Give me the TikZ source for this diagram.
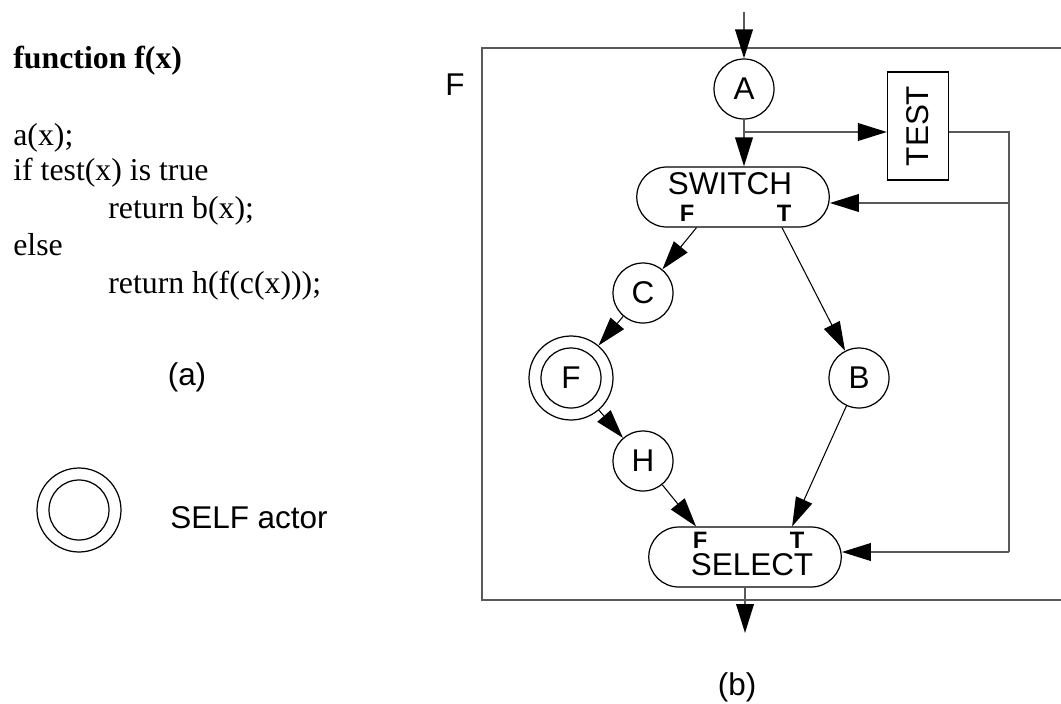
\documentclass[tikz,border=0pt]{standalone}
\usepackage{fontspec}
\setmainfont{Liberation Sans}
\newfontfamily\codefont{Liberation Serif}
\usepackage{tikz}
\usetikzlibrary{calc}
\usetikzlibrary{arrows.meta}
\usetikzlibrary{positioning, shapes.misc}

\begin{document}
\begin{tikzpicture}[x=0.02cm, y=-0.02cm,
    >={Triangle[length=16.5pt, width=10pt, color=black]},
    lbl/.style={font=\fontsize{17.9}{21}\selectfont},
    tf/.style={font=\fontsize{13.5}{15}\selectfont\bfseries, inner sep=0pt},
    code/.style={anchor=base west, inner sep=0pt, font=\codefont\fontsize{18.1}{21}\selectfont},
    actor/.style={circle, draw, line width=0.7pt, minimum size=1.2cm, inner sep=0pt, lbl},
    selfactor/.style={circle, draw, line width=0.7pt, minimum size=1.68cm, inner sep=0pt, lbl,
        path picture={\draw[line width=0.7pt] (path picture bounding box.center) circle (0.6cm);}},
    stadium/.style={rounded rectangle, draw, line width=0.7pt, minimum width=3.85cm, minimum height=1.2cm, inner sep=0pt},
    testbox/.style={draw, line width=0.7pt, minimum width=1.22cm, minimum height=2.16cm, inner sep=0pt, lbl},
    wire/.style={draw=black!65, line width=1.1pt},
    edge/.style={draw=black, line width=0.6pt}]
    \useasboundingbox (0,0) rectangle (1061,703);

    % left: the function and the legend
    \node[code, font=\codefont\bfseries\fontsize{18.1}{21}\selectfont] (title) at (13,68) {function f(x)};
    \node[code] (l1) at (13,145) {a(x);};
    \node[code] (l2) at (13,180) {if test(x) is true};
    \node[code] (l3) at (108,218) {return b(x);};
    \node[code] (l4) at (13,255) {else};
    \node[code] (l5) at (108,293) {return h(f(c(x)));};
    \node[lbl] (capa) at (187,377) {(a)};
    \node[selfactor] (legend) at (79,510) {};
    \node[lbl, anchor=base west, inner sep=0pt] (legtxt) at (170,528) {SELF actor};

    % frame of F
    \draw[wire] (1061,48) -- (482,48) -- (482,600) -- (1061,600);
    \node[lbl] (flbl) at (455,85) {F};

    % actors
    \node[actor] (a) at (744,89) {A};
    \node[testbox] (test) at (918,126) {\rotatebox{90}{TEST}};
    \node[stadium] (sw) at (733,197) {};
    \node[lbl] (swtxt) at (730,184) {SWITCH};
    \node[tf] (swF) at (687,213) {F};
    \node[tf] (swT) at (784,213) {T};
    \node[actor] (c) at (643,293) {C};
    \node[selfactor] (f) at (571,378) {F};
    \node[actor] (b) at (859,378) {B};
    \node[actor] (h) at (643,461) {H};
    \node[stadium] (sel) at (745,557) {};
    \node[tf] (selF) at (700,540) {F};
    \node[tf] (selT) at (797,540) {T};
    \node[lbl] (seltxt) at (752,565) {SELECT};
    \node[lbl] (capb) at (737,687) {(b)};

    \coordinate (in) at (744,12);
    \coordinate (br) at (744,132);
    \coordinate (tr) at (1009,132);
    \coordinate (tsw) at (1009,203);
    \coordinate (tsel) at (1009,552);
    \coordinate (out) at (745,633);

    % control wires
    \draw[wire,->] (in) -- (a);
    \draw[wire,->] (a) -- (a |- sw.north);
    \draw[wire,->] (br) -- (br -| test.west);
    \draw[wire] (tr -| test.east) -- (tr) -- (tsel);
    \draw[wire,->] (tsw) -- (tsw -| sw.east);
    \draw[wire,->] (tsel) -- (tsel -| sel.east);
    \draw[wire,->] (sel) -- (sel |- out);

    % data edges
    \draw[edge,->] (sw.220) -- (c);
    \draw[edge,->] (sw.328) -- (b);
    \draw[edge,->] (c) -- (f);
    \draw[edge,->] (f) -- (h);
    \draw[edge,->] (h) -- (sel.148);
    \draw[edge,->] (b) -- (sel.33);
\end{tikzpicture}
\end{document}
